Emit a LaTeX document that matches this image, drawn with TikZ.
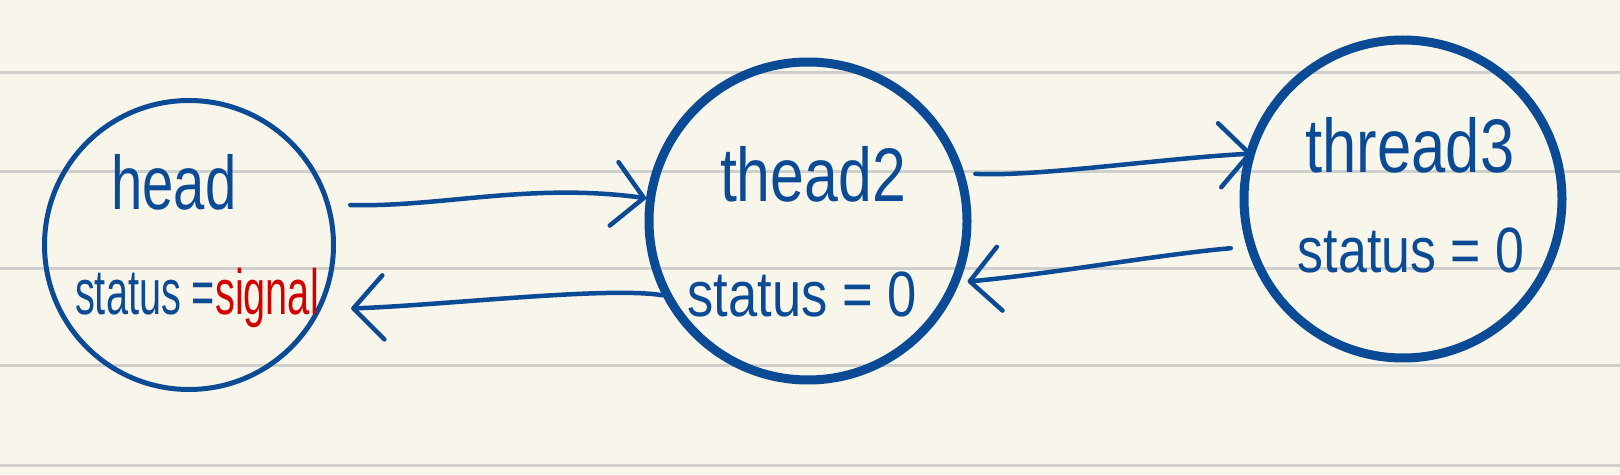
\documentclass[tikz,border=0pt]{standalone}
\usepackage{fontspec}
\setmainfont{Liberation Sans}
\usepackage{xcolor}
\usetikzlibrary{arrows.meta, positioning}
\definecolor{inkblue}{HTML}{0B4A94}
\definecolor{inkred}{HTML}{D40000}
\definecolor{paper}{HTML}{F8F6EA}
\definecolor{ruling}{HTML}{CFCFCB}

\begin{document}
\begin{tikzpicture}[
x=1pt, y=1pt,
thin_node/.style={circle, draw=inkblue, line width=5pt, minimum size=289pt, inner sep=0pt},
bold_node/.style={circle, draw=inkblue, line width=9pt, minimum size=318pt, inner sep=0pt},
name_text/.style={text=inkblue, font=\fontsize{76}{90}\selectfont, inner sep=0pt, anchor=base},
status_text/.style={text=inkblue, font=\fontsize{64}{76}\selectfont, inner sep=0pt, anchor=base},
rule_line/.style={draw=ruling, line width=3pt},
link/.style={draw=inkblue, line width=4.5pt, line cap=round, -{Straight Barb[length=30pt, width=64pt, round]}}
]
% Paper
\fill[paper] (0,0) rectangle (1620,474);
\useasboundingbox (0,0) rectangle (1620,474);
\foreach \y in {401,302,205,108,9}
  \draw[rule_line] (0,\y) -- (1620,\y);

% Threads
\node[thin_node] (head) at (189,229) {};
\node[bold_node] (thead2) at (808,253) {};
\node[bold_node] (thread3) at (1403,275) {};

% Texts
\node[name_text, xscale=0.74] (head_name) at (174,264) {head};
\node[status_text, xscale=0.62] (head_status) at (197,159) {status =\textcolor{inkred}{signal}};
\node[name_text, xscale=0.80] (thead2_name) at (813,272) {thead2};
\node[status_text, xscale=0.82] (thead2_status) at (802,157) {status = 0};
\node[name_text, xscale=0.81] (thread3_name) at (1410,301) {thread3};
\node[status_text, xscale=0.81] (thread3_status) at (1411,201) {status = 0};

% Links
\draw[link, shorten <=20pt] (head.16) .. controls +(110,-3) and +(-116,16) .. (thead2.172);
\draw[link, shorten >=30pt] (thead2.207) .. controls +(-56,9) and +(121,4) .. (head.334);
\draw[link, shorten <=11pt, shorten >=-6pt] (thead2.17.5) .. controls +(70,-4) and +(-80,-4) .. (thread3.164);
\draw[link, shorten <=16pt, shorten >=8pt] (thread3.197) .. controls +(-90,-8) and +(90,8) .. (thead2.338);
\end{tikzpicture}
\end{document}
